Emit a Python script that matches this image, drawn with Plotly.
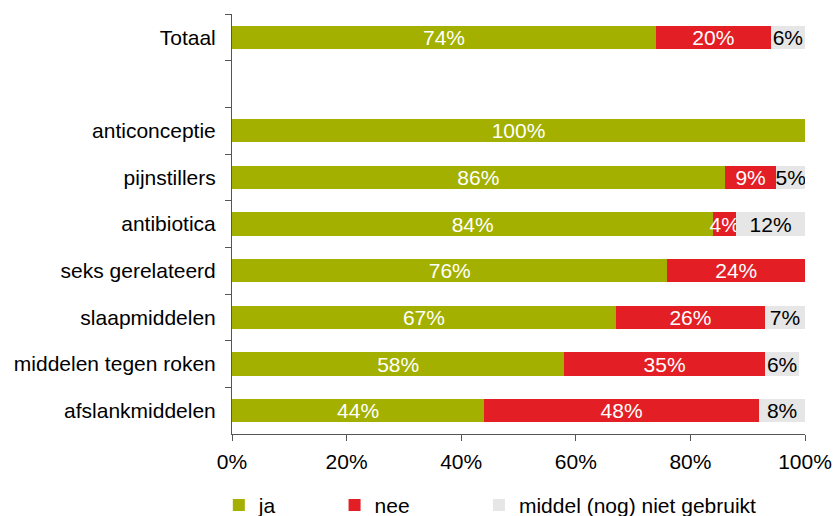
import plotly.graph_objects as go

categories = ["Totaal", " ", "anticonceptie", "pijnstillers", "antibiotica",
              "seks gerelateerd", "slaapmiddelen", "middelen tegen roken", "afslankmiddelen"]
ja = [74, None, 100, 86, 84, 76, 67, 58, 44]
nee = [20, None, 0, 9, 4, 24, 26, 35, 48]
niet = [6, None, 0, 5, 12, 0, 7, 6, 8]
series_names = ["ja", "nee", "middel (nog) niet gebruikt"]
colors = ["#A3B000", "#E31E24", "#E6E6E6"]
text_colors = ["white", "white", "black"]
x_ticks = [0, 20, 40, 60, 80, 100]
x_tick_labels = ["0%", "20%", "40%", "60%", "80%", "100%"]

FONT = "Liberation Sans, Arial, sans-serif"
FS = 21

fig = go.Figure()
legends = ["legend", "legend2", "legend3"]
for vals, name, col, tcol, lg in zip([ja, nee, niet], series_names, colors, text_colors, legends):
    fig.add_trace(go.Bar(
        y=categories, x=vals, name=name, orientation="h",
        marker=dict(color=col, line=dict(width=0)),
        text=[f"{v}%" if v else "" for v in vals],
        textposition="inside", insidetextanchor="middle", textangle=0,
        textfont=dict(color=tcol, size=FS, family=FONT),
        legend=lg, hoverinfo="skip",
    ))

leg_common = dict(orientation="h", y=-0.17, yanchor="middle",
                  font=dict(size=FS), itemwidth=30, bgcolor="rgba(0,0,0,0)")
fig.update_layout(
    barmode="stack", bargap=0.5,
    width=833, height=516,
    margin=dict(l=232, r=28, t=14, b=82, autoexpand=False),
    plot_bgcolor="white", paper_bgcolor="white",
    font=dict(family=FONT, size=FS, color="black"),
    uniformtext=dict(minsize=FS, mode="show"),
    legend=dict(x=-0.023, xanchor="left", **leg_common),
    legend2=dict(x=0.179, xanchor="left", **leg_common),
    legend3=dict(x=0.431, xanchor="left", **leg_common),
    showlegend=True,
)
fig.update_xaxes(
    range=[0, 100], tickmode="array", tickvals=x_ticks, ticktext=x_tick_labels,
    showline=True, linecolor="#555555", linewidth=1,
    ticks="outside", ticklen=6, tickcolor="#555555",
    showgrid=False, zeroline=False, ticklabelstandoff=3,
    tickfont=dict(size=FS, color="black"), automargin=False,
)
fig.update_yaxes(
    categoryorder="array", categoryarray=categories, autorange="reversed",
    showline=True, linecolor="#555555", linewidth=1,
    ticks="outside", ticklen=6, tickcolor="#555555", tickson="boundaries",
    showgrid=False, ticklabelstandoff=11,
    tickfont=dict(size=FS, color="black"), automargin=False,
)

fig.write_html("out.html", config={"displayModeBar": False},
               post_script="document.body.style.margin='0';document.body.style.overflow='hidden';")
